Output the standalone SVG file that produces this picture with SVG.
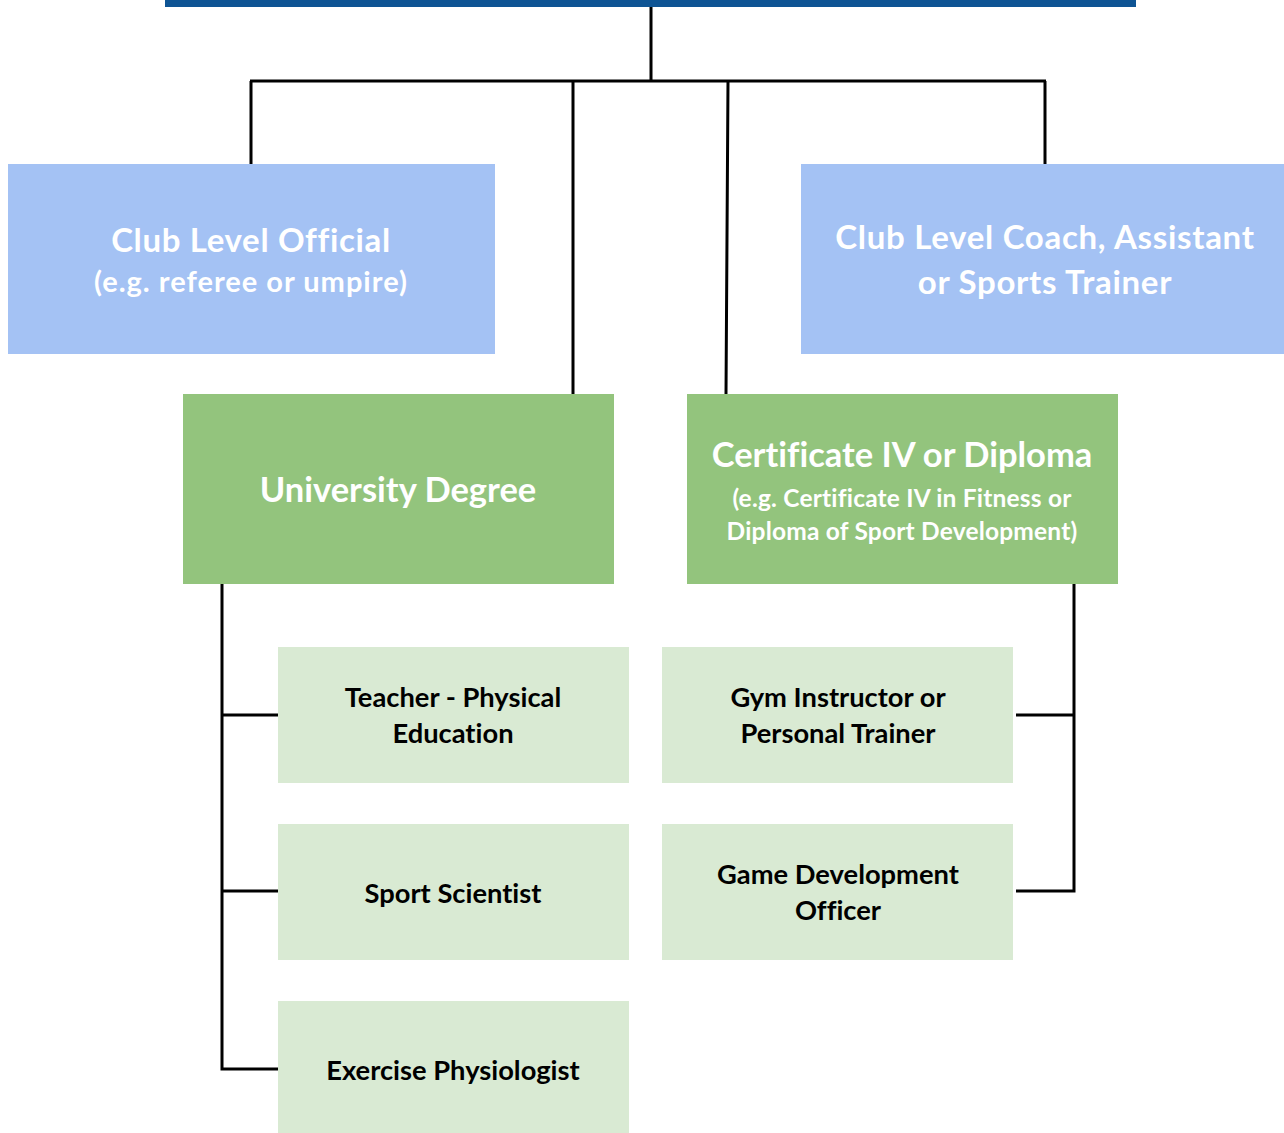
<svg xmlns="http://www.w3.org/2000/svg" width="1284" height="1133" viewBox="0 0 1284 1133">
<style>
.blue{fill:#A4C2F4}
.green{fill:#93C47D}
.light{fill:#D9EAD3}
text{font-family:Lato,"Open Sans","Liberation Sans",sans-serif;font-weight:bold;text-anchor:middle;font-variant-ligatures:none}
.w{fill:#FFFFFF}
.k{fill:#000000;font-size:27.3px}
.conn{stroke:#000000;stroke-width:3;fill:none}
</style>
<rect x="0" y="0" width="1284" height="1133" fill="#FFFFFF"/>
<g id="connectors">
<path class="conn" d="M651 6V81M250 81H1046M251 81V164M573 81V396M728 81L726 394M1045 81V164"/>
<path class="conn" d="M222 584V1069H278M222 715H278M222 891H278"/>
<path class="conn" d="M1074 584V891H1016M1074 715H1016"/>
</g>
<g id="top-bar"><rect x="165" y="0" width="971" height="7" fill="#0E5494"/></g>
<g id="club-official">
<rect class="blue" x="8" y="164" width="487" height="190"/>
<text class="w" x="251" y="252" font-size="33" letter-spacing="0.65">Club Level Official</text>
<text class="w" x="251" y="292" font-size="29" letter-spacing="1">(e.g. referee or umpire)</text>
</g>
<g id="club-coach">
<rect class="blue" x="801" y="164" width="483" height="190"/>
<text class="w" x="1045" y="249" font-size="33" letter-spacing="0.7">Club Level Coach, Assistant</text>
<text class="w" x="1045" y="294" font-size="33" letter-spacing="0.7">or Sports Trainer</text>
</g>
<g id="university">
<rect class="green" x="183" y="394" width="431" height="190"/>
<text class="w" x="398" y="502" font-size="34.5">University Degree</text>
</g>
<g id="certificate">
<rect class="green" x="687" y="394" width="431" height="190"/>
<text class="w" x="902" y="467" font-size="34.5">Certificate IV or Diploma</text>
<text class="w" x="902" y="507" font-size="24.5" letter-spacing="0.2">(e.g. Certificate IV in Fitness or</text>
<text class="w" x="902" y="540" font-size="24.5" letter-spacing="0.2">Diploma of Sport Development)</text>
</g>
<g id="teacher">
<rect class="light" x="278" y="647" width="351" height="136"/>
<text class="k" x="453" y="707">Teacher - Physical</text>
<text class="k" x="453" y="743">Education</text>
</g>
<g id="sport-scientist">
<rect class="light" x="278" y="824" width="351" height="136"/>
<text class="k" x="453" y="903">Sport Scientist</text>
</g>
<g id="exercise-physiologist">
<rect class="light" x="278" y="1001" width="351" height="132"/>
<text class="k" x="453" y="1080">Exercise Physiologist</text>
</g>
<g id="gym-instructor">
<rect class="light" x="662" y="647" width="351" height="136"/>
<text class="k" x="838" y="707">Gym Instructor or</text>
<text class="k" x="838" y="743">Personal Trainer</text>
</g>
<g id="game-development">
<rect class="light" x="662" y="824" width="351" height="136"/>
<text class="k" x="838" y="884">Game Development</text>
<text class="k" x="838" y="920">Officer</text>
</g>
</svg>
